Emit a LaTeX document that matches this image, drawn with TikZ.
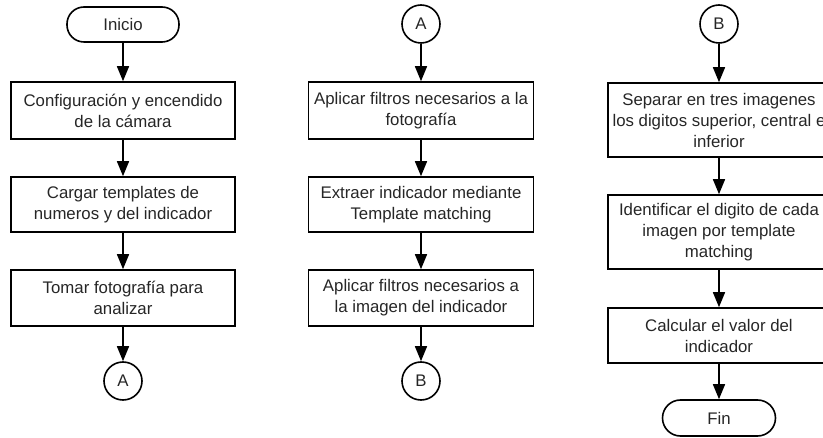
\documentclass[tikz,border=0pt]{standalone}
\usepackage{fontspec}
\setmainfont{Liberation Sans}
\usetikzlibrary{arrows.meta}
\definecolor{txt}{HTML}{262626}
\tikzset{
  base/.style={draw=black, line width=1.6pt, text=txt, font=\fontsize{16.8pt}{21pt}\selectfont, align=center, inner sep=0pt},
  procbox/.style={base, rectangle, minimum width=224pt},
  termbox/.style={base, rectangle, rounded corners=17pt, minimum width=112pt, minimum height=35pt},
  conn/.style={base, circle, minimum size=38pt},
  flow/.style={line width=1.6pt, -{Triangle[length=15pt,width=12pt]}}
}
\begin{document}
\begin{tikzpicture}[x=1pt,y=-1pt]
\useasboundingbox (0,0) rectangle (823,438);
% column 1
\node[termbox] (ini) at (123,24.5) {Inicio};
\node[procbox, minimum height=57pt] (a1) at (123,110.5) {Configuración y encendido\\de la cámara};
\node[procbox, minimum height=55pt] (a2) at (123,204.5) {Cargar templates de\\numeros y del indicador};
\node[procbox, minimum height=56pt] (a3) at (123,298) {Tomar fotografía para\\analizar};
\node[conn] (ca1) at (123,381) {A};
\draw[flow] (ini) -- (a1);
\draw[flow] (a1) -- (a2);
\draw[flow] (a2) -- (a3);
\draw[flow] (a3) -- (ca1);
% column 2
\node[conn] (ca2) at (421,24) {A};
\node[procbox, minimum width=225pt, minimum height=57pt] (b1) at (421,110.5) {Aplicar filtros necesarios a la\\fotografía};
\node[procbox, minimum width=225pt, minimum height=55pt] (b2) at (421,204.5) {Extraer indicador mediante\\Template matching};
\node[procbox, minimum width=225pt, minimum height=56pt] (b3) at (421,298) {Aplicar filtros necesarios a\\la imagen del indicador};
\node[conn] (cb1) at (421,381) {B};
\draw[flow] (ca2) -- (b1);
\draw[flow] (b1) -- (b2);
\draw[flow] (b2) -- (b3);
\draw[flow] (b3) -- (cb1);
% column 3
\node[conn] (cb2) at (719,24) {B};
\node[procbox, minimum width=222pt, minimum height=74pt] (c1) at (719,120) {Separar en tres imagenes\\los digitos superior, central e\\inferior};
\node[procbox, minimum width=222pt, minimum height=74pt] (c2) at (719,232) {Identificar el digito de cada\\imagen por template\\matching};
\node[procbox, minimum width=222pt, minimum height=55pt] (c3) at (719,335.5) {Calcular el valor del\\indicador};
\node[termbox, minimum width=113pt, minimum height=36pt, rounded corners=18pt] (fin) at (719,418) {Fin};
\draw[flow] (cb2) -- (c1);
\draw[flow] (c1) -- (c2);
\draw[flow] (c2) -- (c3);
\draw[flow] (c3) -- (fin);
\end{tikzpicture}
\end{document}
